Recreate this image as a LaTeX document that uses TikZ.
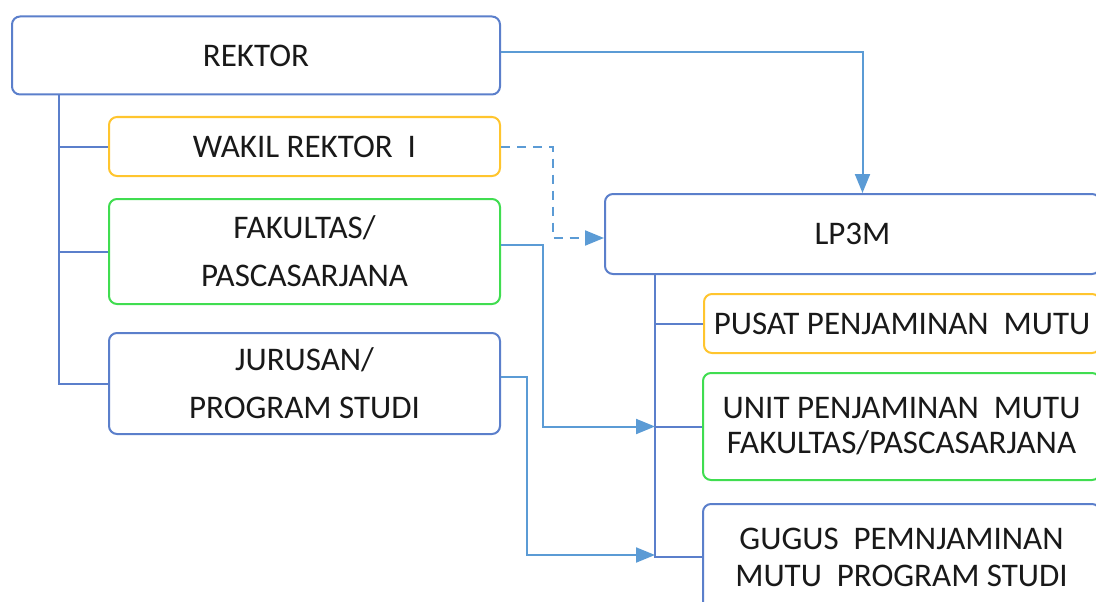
\documentclass[tikz,border=0pt]{standalone}
\usepackage{fontspec}
\setmainfont{Carlito}
\usepackage{tikz}
\usetikzlibrary{positioning,calc}
\usetikzlibrary{arrows.meta}
\definecolor{boxblue}{HTML}{5B7FCB}
\definecolor{boxgold}{HTML}{FFC52E}
\definecolor{boxgreen}{HTML}{40DD50}
\definecolor{lineblue}{HTML}{5B9BD5}
\tikzstyle{kotak} = [rectangle, rounded corners=8pt, line width=2pt, inner sep=0pt,
text centered, align=center, fill=white, text=black!90, font=\fontsize{33}{37}\selectfont]
\tikzstyle{biru} = [kotak, draw=boxblue]
\tikzstyle{kuning} = [kotak, draw=boxgold]
\tikzstyle{hijau} = [kotak, draw=boxgreen]
\tikzstyle{garis} = [line width=2pt, draw=boxblue]
\tikzstyle{arrow} = [line width=2pt, draw=lineblue, -{Triangle[length=19pt,width=15pt,fill=lineblue]}]

\begin{document}
\begin{tikzpicture}[x=1pt,y=-1pt]
\useasboundingbox (0,0) rectangle (1096,602);
\clip (0,0) rectangle (1096,602);
% kiri
\node (rektor) at (256,55.5) [biru, minimum width=488pt, minimum height=78pt] {REKTOR};
\node (wakil) at (304.5,146.5) [kuning, minimum width=391pt, minimum height=59pt] {WAKIL REKTOR\ \ I};
\node (fakultas) at (304.5,251.5) [hijau, minimum width=391pt, minimum height=105pt] {FAKULTAS/\\[11pt]PASCASARJANA};
\node (jurusan) at (304.5,383.5) [biru, minimum width=391pt, minimum height=101pt] {JURUSAN/\\[11pt]PROGRAM STUDI};
% kanan
\node (lp3m) at (852.5,234) [biru, minimum width=495pt, minimum height=80pt] {LP3M};
\node (pusat) at (902,323.5) [kuning, minimum width=396pt, minimum height=59pt] {PUSAT PENJAMINAN\ \ MUTU};
\node (unit) at (901.5,426.5) [hijau, minimum width=397pt, minimum height=107pt] {UNIT PENJAMINAN\ \ MUTU\\[-2pt]FAKULTAS/PASCASARJANA};
\node (gugus) at (901.5,557) [biru, minimum width=397pt, minimum height=106pt] {GUGUS\ \ PEMNJAMINAN\\MUTU\ \ PROGRAM STUDI};
% garis struktur
\coordinate (t1) at ($(rektor.south west)+(48,0)$);
\draw[garis] (t1) -- (t1 |- jurusan.west) -- (jurusan.west);
\draw[garis] (t1 |- wakil.west) -- (wakil.west);
\draw[garis] (t1 |- fakultas.west) -- (fakultas.west);
\coordinate (t2) at ($(lp3m.south west)+(51,0)$);
\draw[garis] (t2) -- (t2 |- gugus.west) -- (gugus.west);
\draw[garis] (t2 |- pusat.west) -- (pusat.west);
\draw[garis] (t2 |- unit.west) -- (unit.west);
% koordinasi
\coordinate (lp3mtop) at ($(lp3m.north)+(10,0)$);
\draw[arrow] ([yshift=3pt]rektor.east) -| (lp3mtop);
\draw[arrow, dash pattern=on 9pt off 7pt] (wakil.east) -- ++(52,0) |- ([yshift=-4pt]lp3m.west);
\draw[arrow] ([yshift=7pt]fakultas.east) -- ++(42,0) |- (t2 |- unit.west);
\draw[arrow] ([yshift=7pt]jurusan.east) -- ++(26,0) |- ([yshift=2pt]t2 |- gugus.west);
\end{tikzpicture}
\end{document}
